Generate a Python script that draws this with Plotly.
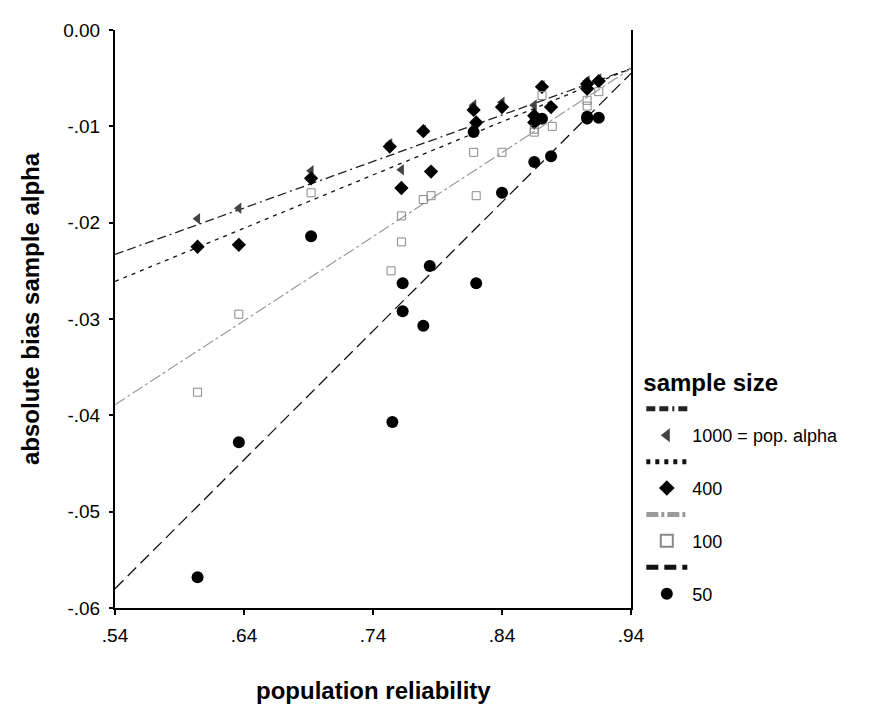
import plotly.graph_objects as go

# ---- data ----
# sample size 50 (black circles)
x50 = [0.604, 0.636, 0.692, 0.755, 0.763, 0.763, 0.779, 0.784, 0.820, 0.840, 0.818, 0.865, 0.878, 0.871, 0.866, 0.906, 0.915, 0.906]
y50 = [-0.0568, -0.0428, -0.0214, -0.0407, -0.0263, -0.0292, -0.0307, -0.0245, -0.0263, -0.0169, -0.0106, -0.0137, -0.0131, -0.0092, -0.0094, -0.0092, -0.0091, -0.0090]

# sample size 100 (grey open squares)
x100 = [0.604, 0.636, 0.692, 0.754, 0.762, 0.762, 0.779, 0.785, 0.820, 0.818, 0.840, 0.865, 0.865, 0.879, 0.871, 0.906, 0.906, 0.915]
y100 = [-0.0376, -0.0295, -0.0169, -0.0250, -0.0220, -0.0193, -0.0176, -0.0172, -0.0172, -0.0127, -0.0127, -0.0106, -0.0103, -0.0100, -0.0068, -0.0073, -0.0079, -0.0064]

# sample size 400 (black diamonds)
x400 = [0.604, 0.636, 0.692, 0.753, 0.762, 0.779, 0.785, 0.818, 0.820, 0.840, 0.871, 0.865, 0.865, 0.878, 0.906, 0.915, 0.906]
y400 = [-0.0225, -0.0223, -0.0154, -0.0121, -0.0164, -0.0105, -0.0147, -0.0083, -0.0096, -0.0080, -0.0059, -0.0089, -0.0096, -0.0080, -0.0061, -0.0053, -0.0056]

# sample size 1000 = pop. alpha (left triangles)
x1000 = [0.604, 0.636, 0.692, 0.753, 0.762, 0.779, 0.818, 0.840, 0.871, 0.865, 0.906, 0.915, 0.818]
y1000 = [-0.0196, -0.0185, -0.0146, -0.0118, -0.0145, -0.0104, -0.0078, -0.0075, -0.0058, -0.0078, -0.0053, -0.0051, -0.0080]

# fit lines (end points)
fit_x = [0.54, 0.94]
fit_1000 = [-0.0233, -0.0040]
fit_400 = [-0.0261, -0.0040]
fit_100 = [-0.0389, -0.0040]
fit_50 = [-0.0580, -0.0045]

x_ticks = [0.54, 0.64, 0.74, 0.84, 0.94]
x_tick_text = [".54", ".64", ".74", ".84", ".94"]
y_ticks = [-0.06, -0.05, -0.04, -0.03, -0.02, -0.01, 0.0]
y_tick_text = ["-.06", "-.05", "-.04", "-.03", "-.02", "-.01", "0.00"]

FONT = "Arial, Liberation Sans, sans-serif"

fig = go.Figure()

fig.add_trace(go.Scatter(x=fit_x, y=fit_1000, mode="lines", name=" ",
                         line=dict(color="#222222", width=1.3, dash="9px,4px,9px,4px,2px,4px")))
fig.add_trace(go.Scatter(x=x1000, y=y1000, mode="markers", name="1000 = pop. alpha",
                         marker=dict(symbol="triangle-left", size=10, color="#444444")))
fig.add_trace(go.Scatter(x=fit_x, y=fit_400, mode="lines", name=" ",
                         line=dict(color="#111111", width=1.3, dash="4px,5px")))
fig.add_trace(go.Scatter(x=x400, y=y400, mode="markers", name="400",
                         marker=dict(symbol="diamond", size=11, color="#000000")))
fig.add_trace(go.Scatter(x=fit_x, y=fit_100, mode="lines", name=" ",
                         line=dict(color="#9a9a9a", width=1.2, dash="12px,3px,3px,3px")))
fig.add_trace(go.Scatter(x=x100, y=y100, mode="markers", name="100",
                         marker=dict(symbol="square-open", size=8, color="#888888",
                                     line=dict(width=1, color="#888888"))))
fig.add_trace(go.Scatter(x=fit_x, y=fit_50, mode="lines", name=" ",
                         line=dict(color="#111111", width=1.3, dash="12px,6px")))
fig.add_trace(go.Scatter(x=x50, y=y50, mode="markers", name="50",
                         marker=dict(symbol="circle", size=12, color="#000000")))

# page body has an 8px margin, so the figure is 8px smaller and margins shifted
fig.update_layout(
    width=862, height=701,
    margin=dict(l=107, r=239, t=18, b=101),
    paper_bgcolor="white", plot_bgcolor="white",
    font=dict(family=FONT, color="#000000", size=19),
    showlegend=True,
    legend=dict(
        x=1.02, xanchor="left", y=0.43, yanchor="top",
        title=dict(text="<b>sample size</b>", font=dict(size=24, family=FONT)),
        font=dict(size=18, family=FONT),
        tracegroupgap=0, bgcolor="rgba(0,0,0,0)", itemsizing="constant",
        itemwidth=41,
    ),
    xaxis=dict(
        range=[0.54, 0.94], tickvals=x_ticks, ticktext=x_tick_text,
        showgrid=False, zeroline=False, showline=True, linecolor="#000", linewidth=2,
        ticks="outside", ticklen=5, tickwidth=2, tickcolor="#000",
        tickfont=dict(size=19, family=FONT), ticklabelstandoff=4,
    ),
    yaxis=dict(
        range=[-0.06, 0.0], tickvals=y_ticks, ticktext=y_tick_text,
        showgrid=False, zeroline=False, showline=True, linecolor="#000", linewidth=2,
        mirror=True,
        ticks="outside", ticklen=4, tickwidth=2, tickcolor="#000",
        tickfont=dict(size=19, family=FONT), ticklabelstandoff=5,
    ),
    annotations=[
        dict(text="<b>population reliability</b>", xref="paper", yref="paper",
             x=0.5, y=0, yshift=-82, xanchor="center", yanchor="middle",
             showarrow=False, font=dict(size=24, family=FONT)),
        dict(text="<b>absolute bias sample alpha</b>", xref="paper", yref="paper",
             x=0, y=0.5, xshift=-85, yshift=10, xanchor="center", yanchor="middle",
             textangle=-90, showarrow=False, font=dict(size=24, family=FONT)),
    ],
)

fig.write_html("out.html")
